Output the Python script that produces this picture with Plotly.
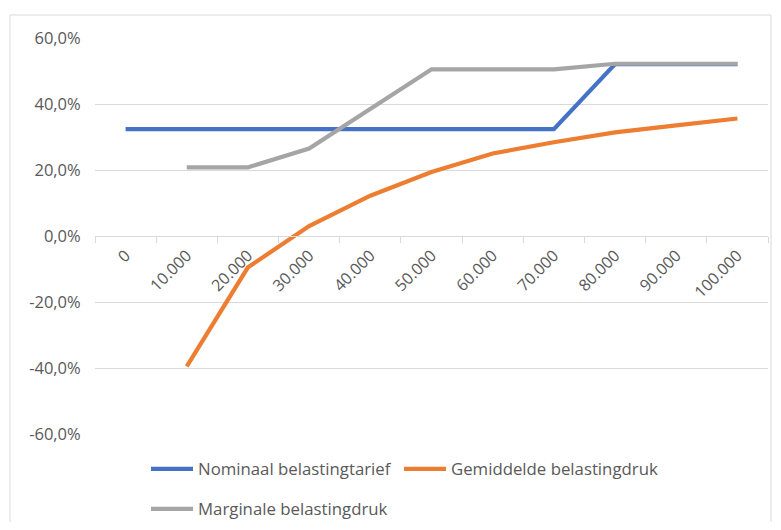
import plotly.graph_objects as go

categories = ["0", "10.000", "20.000", "30.000", "40.000", "50.000",
              "60.000", "70.000", "80.000", "90.000", "100.000"]
nominaal = [32.4, 32.4, 32.4, 32.4, 32.4, 32.4, 32.4, 32.4, 52.1, 52.1, 52.1]
gemiddelde = [None, -39.5, -9.5, 3.0, 12.2, 19.4, 25.0, 28.4, 31.4, 33.5, 35.6]
marginale = [None, 20.8, 20.8, 26.5, 38.5, 50.5, 50.5, 50.5, 52.2, 52.2, 52.2]
y_ticks = [-60, -40, -20, 0, 20, 40, 60]
y_ticktext = ["-60,0%", "-40,0%", "-20,0%", "0,0%", "20,0%", "40,0%", "60,0%"]

FONT = "Open Sans"
TXT = "#595959"
GRID = "#d9d9d9"

fig = go.Figure()
fig.add_trace(go.Scatter(x=categories, y=nominaal, mode="lines",
                         name="Nominaal belastingtarief",
                         line=dict(color="#4472C4", width=4.2), legend="legend"))
fig.add_trace(go.Scatter(x=categories, y=gemiddelde, mode="lines",
                         name="Gemiddelde belastingdruk",
                         line=dict(color="#ED7D31", width=4.2), legend="legend2"))
fig.add_trace(go.Scatter(x=categories, y=marginale, mode="lines",
                         name="Marginale belastingdruk",
                         line=dict(color="#A5A5A5", width=4.2), legend="legend3"))

# page body has an 8px margin, so work in page coordinates minus 8
OFF = 8
W, H = 781 - 2 * OFF, 530 - 2 * OFF
L, T = 95 - OFF, 38 - OFF
R = W - (768 - OFF)
B = H - (434 - OFF)
pw, ph = W - L - R, H - T - B

def px_x(x):
    return (x - OFF - L) / pw

def px_y(y):
    return (H - B - (y - OFF)) / ph

legend_common = dict(orientation="h", xanchor="left", yanchor="middle",
                     font=dict(family=FONT, size=16.8, color=TXT),
                     bgcolor="rgba(0,0,0,0)", itemwidth=42)

fig.update_layout(
    width=W, height=H,
    margin=dict(l=L, r=R, t=T, b=B, autoexpand=False),
    paper_bgcolor="white", plot_bgcolor="white",
    font=dict(family=FONT, size=16, color=TXT),
    showlegend=True,
    legend=dict(x=px_x(146), y=px_y(469), **legend_common),
    legend2=dict(x=px_x(399), y=px_y(469), **legend_common),
    legend3=dict(x=px_x(146), y=px_y(509), **legend_common),
    xaxis=dict(type="category", categoryorder="array", categoryarray=categories,
               range=[-0.5, len(categories) - 0.5],
               anchor="free", position=0.5,
               showgrid=False, showline=True, linecolor=GRID, linewidth=1,
               tickson="boundaries", ticks="outside", ticklen=6, tickcolor=GRID,
               tickangle=-45, ticklabelstandoff=3,
               tickfont=dict(family=FONT, size=16, color=TXT),
               zeroline=False),
    yaxis=dict(range=[-60, 60], tickvals=y_ticks, ticktext=y_ticktext,
               showgrid=True, gridcolor=GRID, gridwidth=1, zeroline=False,
               showline=False, ticks="outside", ticklen=10,
               tickcolor="rgba(0,0,0,0)",
               tickfont=dict(family=FONT, size=16.5, color=TXT)),
    shapes=[dict(type="rect", xref="paper", yref="paper",
                 x0=px_x(10), x1=px_x(771), y0=px_y(545), y1=px_y(15),
                 line=dict(color=GRID, width=1), fillcolor="rgba(0,0,0,0)",
                 layer="below")],
)

fig.write_html("out.html")
